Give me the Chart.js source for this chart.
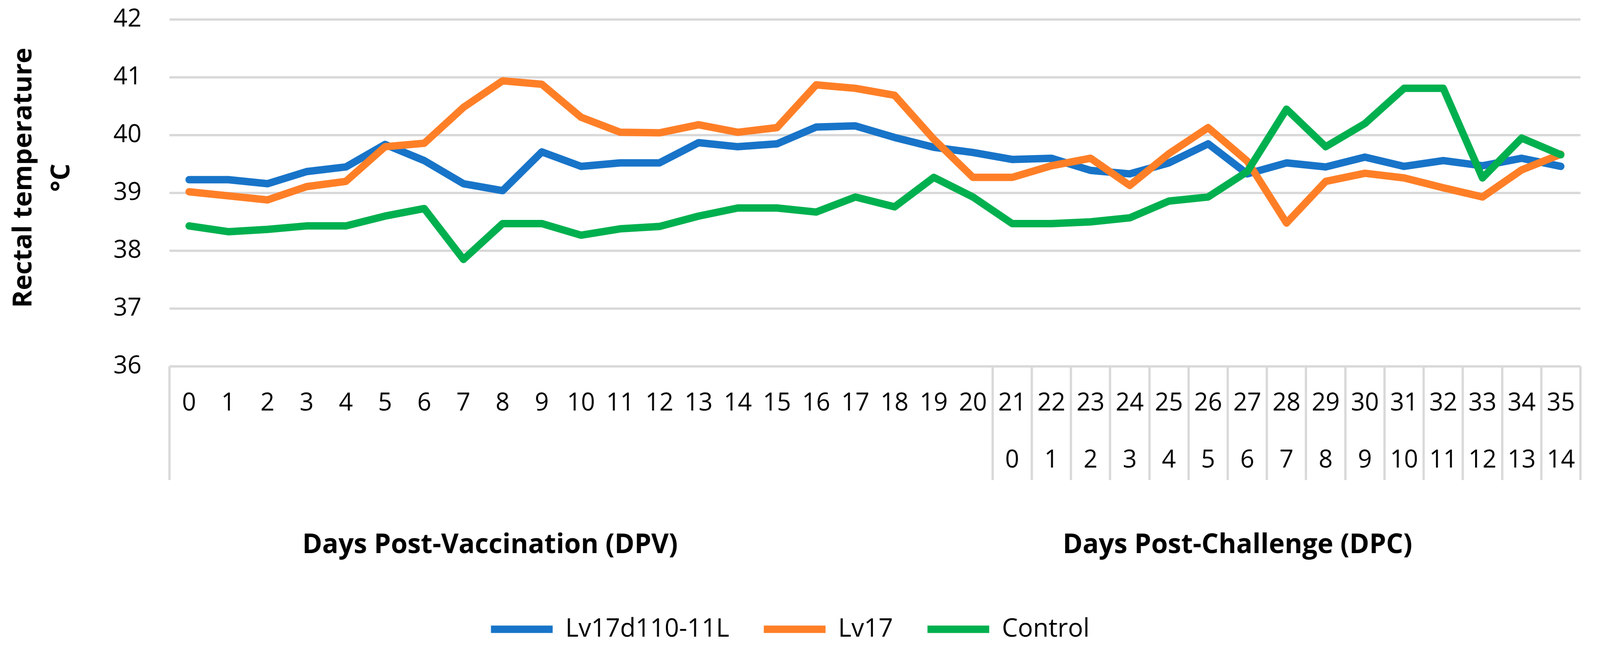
<!DOCTYPE html>
<html>
<head>
<meta charset="utf-8">
<script src="https://cdn.jsdelivr.net/npm/chart.js@4.4.1/dist/chart.umd.min.js"></script>
<style>
  html, body { margin: 0; background: #fff; overflow: hidden; }
  /* the window is narrower than 4173, so fit the drawing to it */
  canvas { display: block; width: 100vw !important; height: 100vh !important; }
</style>
</head>
<body>
<canvas id="grafica" width="4173" height="1682"></canvas>
<script>
// dias (fila 1: post-vacunacion, fila 2: post-desafio)
const dpvDays = ['0','1','2','3','4','5','6','7','8','9','10','11','12','13','14','15','16','17',
  '18','19','20','21','22','23','24','25','26','27','28','29','30','31','32','33','34','35'];
const dpcDays = ['0','1','2','3','4','5','6','7','8','9','10','11','12','13','14'];
const challengeStart = 21;

const seriesNames = ['Lv17d110-11L', 'Lv17', 'Control'];

const lv17d110 = [39.23,39.23,39.16,39.37,39.45,39.84,39.56,39.16,39.04,39.71,39.46,39.52,39.52,39.87,
  39.80,39.85,40.14,40.16,39.96,39.79,39.70,39.58,39.60,39.39,39.33,39.52,39.85,39.33,39.52,39.45,
  39.62,39.46,39.56,39.47,39.60,39.46];
const lv17 = [39.02,38.95,38.88,39.11,39.20,39.80,39.86,40.48,40.94,40.88,40.31,40.05,40.04,40.18,
  40.05,40.13,40.87,40.81,40.69,39.93,39.27,39.27,39.47,39.60,39.13,39.68,40.13,39.55,38.48,39.20,
  39.34,39.26,39.09,38.93,39.40,39.67];
const control = [38.43,38.33,38.37,38.43,38.43,38.60,38.73,37.85,38.47,38.47,38.27,38.38,38.42,38.60,
  38.74,38.74,38.67,38.93,38.76,39.27,38.93,38.47,38.47,38.50,38.57,38.86,38.93,39.37,40.45,39.80,
  40.20,40.81,40.81,39.26,39.95,39.66];

const yTicks = [36, 37, 38, 39, 40, 41, 42];

const gris = '#d9d9d9';

// cajas del eje x, titulos de grupo y titulo del eje y
const decoracion = {
  id: 'decoracion',
  afterDraw(chart) {
    const ctx = chart.ctx;
    const x = chart.scales.x;
    const area = chart.chartArea;
    ctx.save();
    ctx.strokeStyle = gris;
    ctx.lineWidth = 6;
    const bordes = [0];
    for (let i = challengeStart; i <= dpvDays.length; i++) bordes.push(i);
    bordes.forEach(b => {
      const px = Math.round(x.getPixelForValue(b - 0.5));
      ctx.beginPath();
      ctx.moveTo(px, area.bottom);
      ctx.lineTo(px, area.bottom + 291);
      ctx.stroke();
    });

    ctx.fillStyle = '#000';
    ctx.font = 'bold 70px "Open Sans"';
    ctx.textAlign = 'center';
    ctx.textBaseline = 'alphabetic';
    ctx.fillText('Days Post-Vaccination (DPV)', x.getPixelForValue(7.68), 1416);
    ctx.fillText('Days Post-Challenge (DPC)', x.getPixelForValue(26.75), 1416);

    ctx.font = 'bold 68px "Open Sans"';
    ctx.save();
    ctx.translate(82, 455);
    ctx.rotate(-Math.PI / 2);
    ctx.fillText('Rectal temperature', 0, 0);
    ctx.restore();
    ctx.save();
    ctx.translate(181, 455);
    ctx.rotate(-Math.PI / 2);
    ctx.fillText('°C', 0, 0);
    ctx.restore();
    ctx.restore();
  }
};

let miCanvas = document.getElementById('grafica').getContext('2d');

var chart = new Chart(miCanvas, {
  type: 'line',
  data: {
    labels: dpvDays,
    datasets: [
      { label: seriesNames[0], data: lv17d110, borderColor: '#1874C8', backgroundColor: '#1874C8', order: 3 },
      { label: seriesNames[1], data: lv17, borderColor: '#FF7F27', backgroundColor: '#FF7F27', order: 2 },
      { label: seriesNames[2], data: control, borderColor: '#00B04F', backgroundColor: '#00B04F', order: 1 }
    ].map(d => Object.assign(d, { borderWidth: 19, borderCapStyle: 'round', borderJoinStyle: 'round' }))
  },
  options: {
    responsive: false,
    devicePixelRatio: 1,
    animation: false,
    elements: {
      line: { tension: 0 },
      point: { radius: 0, hoverRadius: 0 }
    },
    layout: { padding: { left: 0, right: 51, top: 50, bottom: 28 } },
    scales: {
      x: {
        offset: true,
        grid: { display: false, drawTicks: false },
        border: { display: false },
        afterFit: (s) => { s.height = 550; },
        ticks: {
          autoSkip: false,
          maxRotation: 0,
          minRotation: 0,
          padding: 22,
          color: '#000',
          font: { family: '"Open Sans"', size: 64, lineHeight: '146px' },
          callback: (v, i) => i >= challengeStart ? [dpvDays[i], dpcDays[i - challengeStart]] : dpvDays[i]
        }
      },
      y: {
        min: yTicks[0],
        max: yTicks[yTicks.length - 1],
        afterFit: (s) => { s.width = 442; s.paddingTop = 0; s.paddingBottom = 0; },
        afterBuildTicks: (s) => { s.ticks = yTicks.map(v => ({ value: v })); },
        grid: { color: gris, lineWidth: 6, drawTicks: false },
        border: { display: false },
        ticks: {
          padding: 73,
          color: '#000',
          font: { family: '"Open Sans"', size: 64 }
        }
      }
    },
    plugins: {
      title: { display: false },
      tooltip: { enabled: false },
      legend: {
        display: true,
        position: 'bottom',
        labels: {
          usePointStyle: true,
          pointStyle: 'line',
          pointStyleWidth: 161,
          padding: 90,
          color: '#000',
          font: { family: '"Open Sans"', size: 66 },
          sort: (a, b) => a.datasetIndex - b.datasetIndex
        }
      }
    }
  },
  plugins: [decoracion]
});
</script>
</body>
</html>
